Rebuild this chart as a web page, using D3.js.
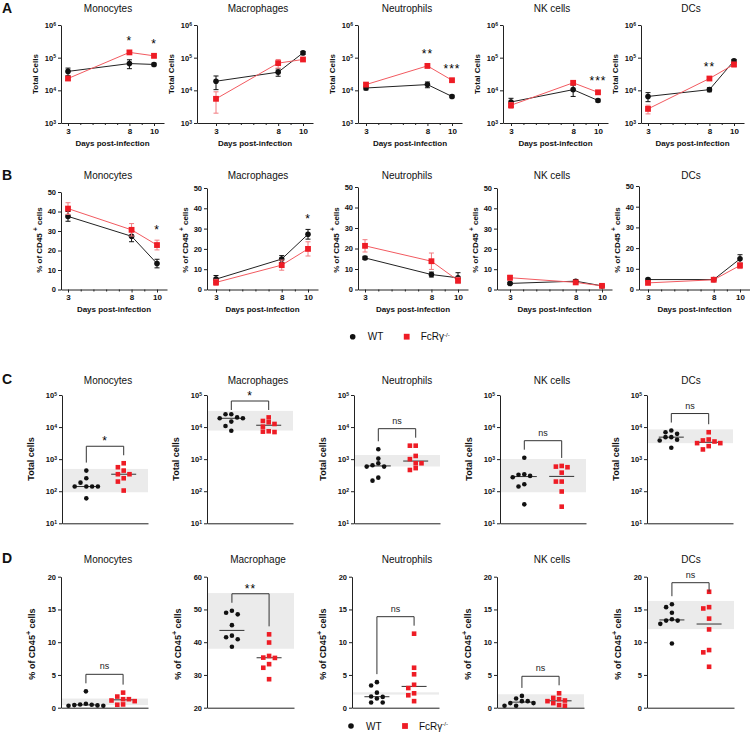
<!DOCTYPE html>
<html><head><meta charset="utf-8">
<script src="https://cdn.jsdelivr.net/npm/d3@7"></script>
<style>
body{margin:0;background:#fff;}
svg{display:block;font-family:"Liberation Sans",Arial,sans-serif;}
</style></head><body>
<svg id="chart" width="750" height="732"></svg>
<script>
// ---------------- DATA ----------------
const days = [3, 8, 10];
const minorDays = [4, 5, 6, 7, 9];
const cellTypes = ["Monocytes", "Macrophages", "Neutrophils", "NK cells", "DCs"];
const cellTypesD = ["Monocytes", "Macrophage", "Neutrophils", "NK cells", "DCs"];
const groupNames = ["WT", "FcRγ"];

// A: total cells (mean, SEM) at days 3, 8, 10
const totalWT    = [[38000,66000,62000],[19000,36000,140000],[11800,15000,6500],[4400,10500,4900],[6500,10500,80000]];
const totalWTsem = [[10000,20000,6000],[8500,9000,15000],[1500,3000,600],[1300,4000,500],[2000,1500,8000]];
const totalKO    = [[23000,145000,114000],[5500,68000,88000],[15000,56000,20400],[3500,17000,8700],[2700,23000,62000]];
const totalKOsem = [[3000,20000,15000],[3500,20000,8000],[2000,8000,1500],[700,2000,1000],[800,3000,10000]];
const sigA = [["","*","*"],["","",""],["","**","***"],["","","***"],["","**",""]];
const logTicksA = [1e3, 1e4, 1e5, 1e6];

// B: % of CD45+ cells
const pctWT    = [[37.5,27.3,13.3],[5.1,15.0,27.2],[15.4,7.3,5.7],[3.0,4.1,1.8],[4.8,4.8,14.8]];
const pctWTsem = [[2.5,2.8,2.2],[1.8,1.7,2.4],[0.8,1.2,2.5],[0.5,0.8,0.3],[0.6,0.6,2.0]];
const pctKO    = [[41.5,30.6,22.8],[3.5,12.0,20.0],[21.3,13.8,4.4],[5.8,3.5,1.8],[3.2,4.7,11.6]];
const pctKOsem = [[3.0,3.2,2.5],[1.5,2.5,3.5],[3.0,4.0,1.5],[1.2,0.8,0.4],[0.6,0.5,1.5]];
const sigB = [["","","*"],["","","*"],["","",""],["","",""],["","",""]];
const pctTicksB = [0, 10, 20, 30, 40, 50];

// C: total cells, individual animals
const cTotalWT = [
  [440,254,185,140,140,140,140,60],
  [25000,25000,20000,18800,18800,14800,10800,7700],
  [2030,1040,745,645,585,585,265,214],
  [1110,340,325,300,273,165,140,39],
  [7800,6900,6150,4850,4850,4030,3830,2270]];
const cTotalKO = [
  [745,560,440,339,339,254,200,105],
  [20000,15500,14100,12500,10300,7400,7200,7000],
  [2630,2630,1260,1000,745,745,525,460],
  [614,585,560,380,200,200,98,33],
  [6900,4100,3830,3550,3160,3160,2550,2010]];
const cBand = [[93,495],[7800,32000],[590,1350],[93,1010],[3150,8500]];
const sigC = ["*","*","ns","ns","ns"];
const logTicksC = [1e1, 1e2, 1e3, 1e4, 1e5];

// D: % of CD45+ cells, individual animals
const dPctWT = [
  [2.5,0.6,0.5,0.45,0.4,0.35,0.3,0.3],
  [49.6,49.0,48.5,45.2,42.0,41.5,40.9,38.6],
  [3.9,3.4,2.3,1.7,1.65,1.4,0.8,0.8],
  [1.8,1.4,1.0,1.0,0.7,0.7,0.3,0.3],
  [15.8,15.35,14.5,13.5,13.3,13.3,12.8,9.8]];
const dPctKO = [
  [2.3,1.7,1.3,1.3,1.1,1.0,0.5,0.45],
  [42.4,39.9,35.8,35.3,35.2,33.3,32.2,28.7],
  [11.3,6.1,5.1,3.5,3.0,2.2,1.9,1.0],
  [2.2,1.5,1.3,1.1,1.0,0.7,0.4,0.3],
  [17.7,15.35,15.15,13.6,11.95,8.8,8.45,6.25]];
const dBand = [[0.4,1.4],[38,55],[2.0,2.35],[0,2.05],[12,16.3]];
const sigD = ["ns","**","ns","ns","ns"];
const dTicks = [[0,5,10,15,20],[20,30,40,50,60],[0,5,10,15,20],[0,5,10,15,20],[0,5,10,15,20]];

// ---------------- LAYOUT ----------------
const titleX = [108, 258, 407, 552, 691];
const LA = {axisX:[61,197,358,503,641], x3:[68,216,366,511,648], x10:[154,303,452,598,734], top:[25,25,25,25,25], bottom:123, titleY:12, xLabY:146, yLabY:74};
const LB = {axisX:[61,207,358,497,639], x3:[68,216,365,510,648], x10:[157,308,458,602,740], top:[192,188,187,188,186], bottom:289.5, titleY:179, xLabY:312, yLabY:240};
const LC = {axisX:[62,207,354,500,647], width:86, pad:0.65, top:395, bottom:523.3, titleY:384, yLabY:459};
const LD = {axisX:[61,207,352,497,647], width:87, pad:0.67, top:576.7, bottom:707.7, titleY:563, yLabY:644};

// ---------------- DRAWING ----------------
const svg = d3.select("#chart");
const AX = "#222";
const RED = "#ee1c25", REDLINE = "#f25a60", REDERR = "#f27c80";

function styleAxis(g, fs) {
  g.attr("font-family", null).attr("font-size", null);
  g.selectAll(".domain").attr("stroke", AX).attr("stroke-width", 1);
  g.selectAll(".tick line").attr("stroke", AX).attr("stroke-width", 1);
  g.selectAll(".tick text").attr("fill", "#111").attr("font-size", fs || 7.5).attr("font-weight", "bold");
}
function powLabels(g) {
  g.selectAll(".tick text").each(function(d) {
    const t = d3.select(this); t.text(null);
    t.append("tspan").text("10");
    t.append("tspan").attr("dy", "-0.45em").attr("font-size", "0.68em").text(Math.round(Math.log10(d)));
  });
}
function title(x, y, s) {
  svg.append("text").attr("x", x).attr("y", y).attr("text-anchor", "middle")
    .attr("font-size", 10).attr("fill", "#111").text(s);
}
function letter(x, y, s) {
  svg.append("text").attr("x", x).attr("y", y).attr("font-size", 14).attr("font-weight", "bold").attr("fill", "#111").text(s);
}
function yLabel(cx, cy, parts, fs) {
  const t = svg.append("text").attr("transform", `translate(${cx + fs * 0.36},${cy}) rotate(-90)`)
    .attr("text-anchor", "middle").attr("font-size", fs).attr("font-weight", "bold").attr("fill", "#111");
  parts.forEach(p => {
    const ts = t.append("tspan").text(p.t);
    if (p.sup) ts.attr("dy", -fs * 0.45).attr("font-size", fs * 0.8);
    if (p.after) ts.attr("dy", fs * 0.45);
  });
}
function marker(g, shape, cx, cy, size, color) {
  if (shape === "circle") g.append("circle").attr("cx", cx).attr("cy", cy).attr("r", size / 2).attr("fill", color);
  else g.append("rect").attr("x", cx - size / 2).attr("y", cy - size / 2).attr("width", size).attr("height", size).attr("fill", color);
}
function sigText(g, x, top, s) {
  if (!s) return;
  if (s === "ns") {
    g.append("text").attr("x", x).attr("y", top - 5).attr("text-anchor", "middle").attr("font-size", 9).attr("fill", "#222").text(s);
  } else {
    g.append("text").attr("x", x).attr("y", top - 1).attr("text-anchor", "middle").attr("font-size", 12)
      .attr("letter-spacing", 1).attr("fill", "#000").text(s);
  }
}

function linePanel(k, L, yType, wt, wtSem, ko, koSem, sig, yTicks, labelParts) {
  const axisX = L.axisX[k], x3 = L.x3[k], x10 = L.x10[k], top = L.top[k], bottom = L.bottom;
  const base = d3.scaleLinear().domain([3, 10]).range([x3, x10]);
  const axisEnd = x10 + 10;
  const x = d3.scaleLinear().domain([base.invert(axisX), base.invert(axisEnd)]).range([axisX, axisEnd]);
  const y = yType === "log" ? d3.scaleLog().domain([1e3, 1e6]).range([bottom, top])
                            : d3.scaleLinear().domain([0, 50]).range([bottom, top]);
  const g = svg.append("g");
  g.append("g").attr("transform", `translate(0,${bottom})`)
    .call(d3.axisBottom(x).tickValues(days).tickSize(3).tickPadding(2).tickSizeOuter(0).tickFormat(d3.format("d")))
    .call(a => styleAxis(a, 8));
  g.append("g").attr("transform", `translate(0,${bottom})`)
    .call(d3.axisBottom(x).tickValues(minorDays).tickSize(2).tickSizeOuter(0).tickFormat(""))
    .call(a => a.select(".domain").remove()).call(a => styleAxis(a));
  g.append("g").attr("transform", `translate(${axisX},0)`)
    .call(d3.axisLeft(y).tickValues(yTicks).tickSize(3).tickPadding(2).tickSizeOuter(0).tickFormat(d3.format("d")))
    .call(a => styleAxis(a, 7.5)).call(a => { if (yType === "log") powLabels(a); });

  const series = [
    {vals: wt, sem: wtSem, color: "#111", line: "#222", err: "#111", shape: "circle", size: 5.6},
    {vals: ko, sem: koSem, color: RED, line: REDLINE, err: REDERR, shape: "square", size: 5.8}];
  const lineGen = d3.line().x((d, i) => x(days[i])).y(d => y(d));
  const minV = yType === "log" ? 1e3 : 0;
  series.forEach(s => {
    g.append("path").attr("d", lineGen(s.vals)).attr("fill", "none").attr("stroke", s.line).attr("stroke-width", 1);
  });
  series.forEach(s => {
    s.vals.forEach((v, i) => {
      const cx = x(days[i]), lo = y(Math.max(v - s.sem[i], minV)), hi = y(v + s.sem[i]);
      g.append("path").attr("d", `M${cx},${lo}V${hi}M${cx - 2.5},${lo}H${cx + 2.5}M${cx - 2.5},${hi}H${cx + 2.5}`)
        .attr("stroke", s.err).attr("stroke-width", 1).attr("fill", "none");
    });
    s.vals.forEach((v, i) => marker(g, s.shape, x(days[i]), y(v), s.size, s.color));
  });
  sig.forEach((s, i) => {
    if (!s) return;
    const t = Math.min(y(wt[i] + wtSem[i]), y(ko[i] + koSem[i]));
    sigText(g, x(days[i]), t - 5, s);
  });
  title(titleX[k], L.titleY, cellTypes[k]);
  g.append("text").attr("x", (axisX + axisEnd) / 2).attr("y", L.xLabY).attr("text-anchor", "middle")
    .attr("font-size", 8).attr("font-weight", "bold").attr("fill", "#111").text("Days post-infection");
  yLabel(axisX - (yType === "log" ? 26 : 22), L.yLabY, labelParts, 8);
}

function swarm(vals, cx, y, step, minDist) {
  const placed = [];
  vals.slice().sort((a, b) => b - a).forEach(v => {
    const py = y(v);
    for (let k = 0; k < 30; k++) {
      const off = k === 0 ? 0 : (k % 2 ? -1 : 1) * Math.ceil(k / 2) * step;
      const px = cx + off;
      if (placed.every(p => Math.hypot(p.x - px, p.y - py) >= minDist)) { placed.push({x: px, y: py, v}); break; }
    }
  });
  return placed;
}

function scatterPanel(k, L, yType, wtVals, koVals, band, sig, yDomain, yTicks, names, labelParts) {
  const axisX = L.axisX[k], w = L.width, top = L.top, bottom = L.bottom;
  const y = yType === "log" ? d3.scaleLog().domain([10, 1e5]).range([bottom, top])
                            : d3.scaleLinear().domain(yDomain).range([bottom, top]);
  const x = d3.scalePoint().domain(groupNames).range([axisX, axisX + w]).padding(L.pad);
  const g = svg.append("g");
  g.append("rect").attr("x", axisX).attr("width", w).attr("y", y(band[1])).attr("height", y(band[0]) - y(band[1]))
    .attr("fill", "#ebebeb");
  g.append("g").attr("transform", `translate(0,${bottom})`)
    .call(d3.axisBottom(x).tickValues([]).tickSizeOuter(0)).call(a => styleAxis(a));
  g.append("g").attr("transform", `translate(${axisX},0)`)
    .call(d3.axisLeft(y).tickValues(yTicks).tickSize(3).tickPadding(2).tickSizeOuter(0).tickFormat(d3.format("d")))
    .call(a => styleAxis(a, 7.5)).call(a => { if (yType === "log") powLabels(a); });

  const wtPts = swarm(wtVals, x("WT"), y, 5.8, 4.6);
  const koPts = swarm(koVals, x("FcRγ"), y, 5.8, 4.6);
  const medians = [[wtVals, x("WT")], [koVals, x("FcRγ")]];
  medians.forEach(([vals, cx]) => {
    const my = y(d3.median(vals));
    g.append("line").attr("x1", cx - 12.5).attr("x2", cx + 12.5).attr("y1", my).attr("y2", my)
      .attr("stroke", "#333").attr("stroke-width", 1);
  });
  wtPts.forEach(p => marker(g, "circle", p.x, p.y, 4.6, "#111"));
  koPts.forEach(p => marker(g, "square", p.x, p.y, 4.6, RED));

  const wtTop = d3.min(wtPts, p => p.y), koTop = d3.min(koPts, p => p.y);
  let bTop = Math.max(Math.min(wtTop, koTop) - 17, top + 6);
  const legL = Math.max(bTop + 9, wtTop - 8), legR = Math.max(bTop + 9, koTop - 8);
  const xl = x("WT"), xr = x("FcRγ");
  g.append("path").attr("d", `M${xl},${legL}V${bTop}H${xr}V${legR}`).attr("fill", "none")
    .attr("stroke", "#333").attr("stroke-width", 1);
  sigText(g, (xl + xr) / 2, bTop, sig);

  title(titleX[k], L.titleY, names[k]);
  yLabel(axisX - (yType === "log" ? 31 : 29), L.yLabY, labelParts, 9);
}

function legend(y, xc, xs) {
  const g = svg.append("g");
  marker(g, "circle", xc, y, 5.6, "#111");
  g.append("text").attr("x", xc + 15).attr("y", y + 3.6).attr("font-size", 10).attr("fill", "#111").text("WT");
  marker(g, "square", xs, y, 5.8, RED);
  const t = g.append("text").attr("x", xs + 14).attr("y", y + 3.6).attr("font-size", 10).attr("fill", "#111");
  t.append("tspan").text("FcRγ");
  t.append("tspan").attr("dy", -3.5).attr("font-size", 6).text("-/-");
}

// Row A
for (let k = 0; k < 5; k++)
  linePanel(k, LA, "log", totalWT[k], totalWTsem[k], totalKO[k], totalKOsem[k], sigA[k], logTicksA, [{t: "Total Cells"}]);
// Row B
for (let k = 0; k < 5; k++)
  linePanel(k, LB, "lin", pctWT[k], pctWTsem[k], pctKO[k], pctKOsem[k], sigB[k], pctTicksB,
    [{t: "% of CD45 "}, {t: "+", sup: true}, {t: " cells", after: true}]);
// Row C
for (let k = 0; k < 5; k++)
  scatterPanel(k, LC, "log", cTotalWT[k], cTotalKO[k], cBand[k], sigC[k], null, logTicksC, cellTypes, [{t: "Total cells"}]);
// Row D
for (let k = 0; k < 5; k++)
  scatterPanel(k, LD, "lin", dPctWT[k], dPctKO[k], dBand[k], sigD[k], [dTicks[k][0], dTicks[k][4]], dTicks[k], cellTypesD,
    [{t: "% of CD45"}, {t: "+", sup: true}, {t: " cells", after: true}]);

letter(2, 13, "A");
letter(2, 180, "B");
letter(2, 384, "C");
letter(2, 563, "D");
legend(336.7, 352.7, 406.7);
legend(726, 351, 405);
</script>
</body></html>
